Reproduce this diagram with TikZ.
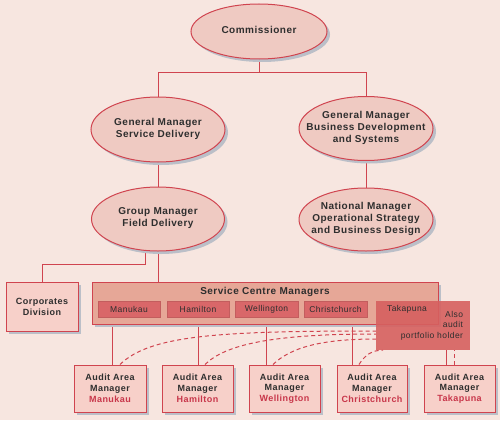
\documentclass[tikz,border=0pt]{standalone}
\usepackage{fontspec}
\setmainfont{Liberation Sans}[LetterSpace=5]
\usetikzlibrary{shapes.geometric,shadows}
\definecolor{bgc}{HTML}{F7E6E0}
\definecolor{ellf}{HTML}{EFCAC2}
\definecolor{boxf}{HTML}{F7D0C9}
\definecolor{scf}{HTML}{E6A797}
\definecolor{subf}{HTML}{D96769}
\definecolor{alsof}{HTML}{D6605F}
\definecolor{linec}{HTML}{D0444F}
\definecolor{shc}{HTML}{BBBFC8}
\definecolor{txt}{HTML}{2E2E2E}
\definecolor{redt}{HTML}{C8364A}
\pgfdeclarelayer{back}
\pgfdeclarelayer{lines}
\pgfsetlayers{back,lines,main}
\newcommand\zt[1]{\makebox[0pt]{\raisebox{-3.5pt}{\smash{\begin{tabular}{@{}c@{}}#1\end{tabular}}}}}
\begin{document}
\begin{tikzpicture}[x=1pt,y=-1pt,
  shad/.style={drop shadow={shadow xshift=3pt,shadow yshift=-3pt,fill=shc,opacity=1}},
  ell/.style={ellipse,draw=linec,line width=1pt,fill=ellf,inner sep=0pt,
    minimum width=134pt,minimum height=64pt,text=txt,
    font=\fontsize{10}{12}\selectfont\bfseries,shad},
  box/.style={rectangle,draw=linec,line width=1pt,fill=boxf,inner sep=0pt,align=center,
    text=txt,font=\fontsize{9}{10.8}\selectfont\bfseries,shad},
  scbox/.style={rectangle,draw=linec,line width=1pt,fill=scf,inner sep=0pt,shad},
  subbox/.style={rectangle,fill=subf,draw=subf!90!black,line width=0.4pt,inner sep=0pt,
    minimum height=16pt,text=txt,font=\fontsize{8.5}{9}\selectfont},
  conn/.style={draw=linec,line width=1pt},
  dconn/.style={draw=linec,line width=1pt,dash pattern=on 4pt off 3pt},
]
\begin{pgfonlayer}{back}
\fill[bgc] (0,0) rectangle (500,420);
\end{pgfonlayer}
\useasboundingbox (0,0) rectangle (500,420);

% ellipses
\node[ell,minimum width=136pt,minimum height=55pt] (comm) at (259,31.5) {\zt{Commissioner}};
\node[ell,minimum height=65pt] (gms) at (158,129.5) {\zt{General Manager\\Service Delivery}};
\node[ell] (gmb) at (366,128.5) {\zt{General Manager\\Business Development\\and Systems}};
\node[ell,minimum width=133pt] (gmf) at (158,219) {\zt{Group Manager\\Field Delivery}};
\node[ell,minimum height=63pt] (nm) at (366,219.5) {\zt{National Manager\\Operational Strategy\\and Business Design}};

% boxes
\node[box,minimum width=72pt,minimum height=49pt] (corp) at (42,306.5) {Corporates\\Division};
\node[scbox,minimum width=346pt,minimum height=42pt] (sc) at (265,303) {};
\node[text=txt,font=\fontsize{10}{12}\selectfont\bfseries,inner sep=0pt] (sctitle) at (265,292) {Service Centre Managers};
\node[subbox,minimum width=62pt] (m1) at (129,309) {Manukau};
\node[subbox,minimum width=62pt] (m2) at (198,309) {Hamilton};
\node[subbox,minimum width=63pt] (m3) at (266.5,309) {Wellington};
\node[subbox,minimum width=63pt] (m4) at (335.5,309) {Christchurch};
\node[rectangle,fill=alsof,fill opacity=0.9,text opacity=1,inner sep=0pt,minimum width=94pt,minimum height=49pt,
  text width=80pt,align=right,text=txt,font=\fontsize{8.5}{10.5}\selectfont] (also) at (423,325.5) {Also\\audit\\portfolio holder};
\node[text=txt,font=\fontsize{8.5}{9}\selectfont,inner sep=0pt] (m5) at (407,309) {Takapuna};

\node[box,minimum width=72pt,minimum height=47pt] (a1) at (110,388.5) {Audit Area\\Manager\\\textcolor{redt}{Manukau}};
\node[box,minimum width=71pt,minimum height=47pt] (a2) at (197.5,388.5) {Audit Area\\Manager\\\textcolor{redt}{Hamilton}};
\node[box,minimum width=71pt,minimum height=47pt] (a3) at (284.5,388.5) {Audit Area\\Manager\\\textcolor{redt}{Wellington}};
\node[box,minimum width=70pt,minimum height=47pt] (a4) at (372,388.5) {Audit Area\\Manager\\\textcolor{redt}{Christchurch}};
\node[box,minimum width=71pt,minimum height=47pt] (a5) at (459.5,388.5) {Audit Area\\Manager\\\textcolor{redt}{Takapuna}};

\begin{pgfonlayer}{lines}
\coordinate (j1) at (259,72);
\draw[conn] (comm) -- (j1);
\draw[conn] (j1) -| (gms);
\draw[conn] (j1) -| (gmb);
\draw[conn] (gms) -- (gmf);
\draw[conn] (gmb) -- (nm);
\coordinate (c1) at (145,264);
\draw[conn] (c1 |- gmf.south) -- (c1) -| (corp);
\draw[conn] (gmf.south) -- (gmf.south |- sc.north);
\draw[conn] ([xshift=2pt]a1.north) -- ([xshift=2pt]a1.north |- m1.south);
\draw[conn] (m2.south) -- (m2.south |- a2.north);
\draw[conn] (m3.south) -- (m3.south |- a3.north);
\draw[conn] ([xshift=-20pt]a4.north) -- ([xshift=-20pt]a4.north |- m4.south);
\draw[conn] ([xshift=-13.5pt]a5.north) -- ([xshift=-13.5pt]a5.north |- also.south);
\draw[dconn] ([xshift=-5.5pt]a5.north) -- ([xshift=-5.5pt]a5.north |- also.south);
\draw[dconn] ([xshift=10pt]a1.north) .. controls (150,335) and (220,331) .. ([yshift=-5.5pt]also.west);
\draw[dconn] ([xshift=7.5pt]a2.north) .. controls (225,345) and (270,334) .. ([yshift=-8.5pt]also.west);
\draw[dconn] ([xshift=-11.5pt]a3.north) .. controls (290,348) and (320,339) .. ([yshift=-13.5pt]also.west);
\draw[dconn] ([xshift=-13pt]a4.north) .. controls (365,355) and (372,350) .. ([xshift=-40pt]also.south);
\end{pgfonlayer}
\end{tikzpicture}
\end{document}
